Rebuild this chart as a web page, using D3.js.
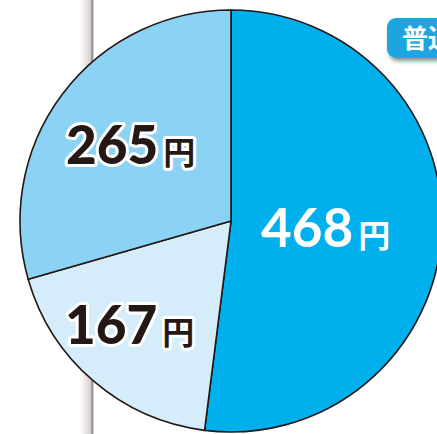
<!DOCTYPE html>
<html><head><meta charset="utf-8">
<script src="https://cdn.jsdelivr.net/npm/d3@7"></script>
<style>html,body{margin:0;padding:0;background:#fff;overflow:hidden}</style>
</head><body>
<svg id="chart" width="437" height="434"></svg>
<script>
const categories = ["A", "B", "C"];
const values = [468, 167, 265];
const valueLabels = ["468", "167", "265"];
const unitLabel = "円";
const colors = ["#00b0ec", "#d5edfa", "#8cd2f5"];
const textColors = ["#ffffff", "#231815", "#231815"];
const tagText = "普通";

const svg = d3.select("#chart");
const defs = svg.append("defs");
const sg = defs.append("linearGradient").attr("id", "vshadow").attr("x1", "0").attr("x2", "1");
sg.append("stop").attr("offset", "0").attr("stop-color", "#ffffff");
sg.append("stop").attr("offset", "1").attr("stop-color", "#cfcac8");
const f = defs.append("filter").attr("id", "tagShadow").attr("x", "-20%").attr("y", "-20%").attr("width", "150%").attr("height", "160%");
f.append("feDropShadow").attr("dx", 2).attr("dy", 3).attr("stdDeviation", 2).attr("flood-color", "#000").attr("flood-opacity", 0.45);

// vertical divider with shadow
svg.append("rect").attr("x", 80).attr("y", 0).attr("width", 12).attr("height", 434).attr("fill", "url(#vshadow)");
svg.append("rect").attr("x", 91).attr("y", 0).attr("width", 2.5).attr("height", 434).attr("fill", "#9e9896");

// tag box
svg.append("rect").attr("x", 387).attr("y", 18).attr("width", 80).attr("height", 40).attr("rx", 9)
  .attr("fill", "#1ba6e0").attr("filter", "url(#tagShadow)");
svg.append("text").attr("x", 402).attr("y", 48).attr("fill", "#fff")
  .attr("font-family", "'Noto Sans CJK JP'").attr("font-weight", 700).attr("font-size", 26).text(tagText);

const cx = 231, cy = 221, r = 211;
const pie = d3.pie().sort(null).value(d => d)(values);
const arc = d3.arc().innerRadius(0).outerRadius(r);
const g = svg.append("g").attr("transform", `translate(${cx},${cy})`);
g.selectAll("path").data(pie).join("path")
  .attr("d", arc).attr("fill", (d, i) => colors[i])
  .attr("stroke", "#231815").attr("stroke-width", 1.6).attr("stroke-linejoin", "round");

const labelPos = [[261, 247], [65, 344], [66, 164]];
const lg = svg.append("g");
valueLabels.forEach((t, i) => {
  const [x, y] = labelPos[i];
  const dark = textColors[i] !== "#ffffff";
  const txt = lg.append("text").attr("x", x).attr("y", y)
    .attr("font-family", "Lato, 'Open Sans', sans-serif").attr("font-weight", dark ? 900 : 700)
    .attr("fill", textColors[i]);
  if (dark) txt.attr("stroke", "#fff").attr("stroke-width", 6).attr("paint-order", "stroke").attr("stroke-linejoin", "round");
  txt.append("tspan").attr("font-size", 53).text(t);
  txt.append("tspan").attr("font-size", 32).attr("dx", 5).attr("font-family", "'Noto Sans CJK JP'").attr("font-weight", 700).text(unitLabel);
});
</script>
</body></html>
